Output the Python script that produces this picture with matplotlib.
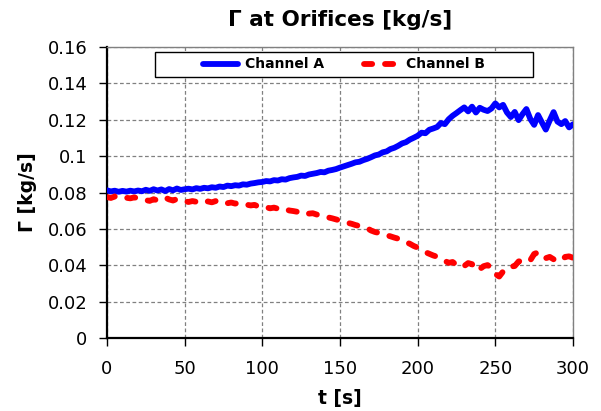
import numpy as np
import matplotlib
matplotlib.use("Agg")
import matplotlib.pyplot as plt
from matplotlib.patches import Rectangle

# time axis [s], sampled every 2.5 s
t = np.arange(0, 300.1, 2.5)

# Channel A [kg/s]
chan_a = [
    0.0812, 0.0806, 0.0810, 0.0804, 0.0809, 0.0805, 0.0810, 0.0806, 0.0811, 0.0807,
    0.0815, 0.0809, 0.0818, 0.0811, 0.0817, 0.0808, 0.0819, 0.0812, 0.0822, 0.0814,
    0.0818, 0.0821, 0.0817, 0.0824, 0.0820, 0.0826, 0.0823, 0.0829, 0.0826, 0.0833,
    0.0830, 0.0838, 0.0835, 0.0840, 0.0838, 0.0845, 0.0843, 0.0849, 0.0852, 0.0856,
    0.0858, 0.0863, 0.0861, 0.0868, 0.0866, 0.0873, 0.0871, 0.0879, 0.0883, 0.0886,
    0.0893, 0.0891, 0.0899, 0.0903, 0.0907, 0.0913, 0.0911, 0.0920, 0.0924, 0.0929,
    0.0937, 0.0944, 0.0951, 0.0958, 0.0966, 0.0969, 0.0978, 0.0985, 0.0994, 0.1004,
    0.1009, 0.1021, 0.1026, 0.1039, 0.1046, 0.1057, 0.1070, 0.1077, 0.1091, 0.1101,
    0.1112, 0.1129, 0.1126, 0.1145, 0.1152, 0.1160, 0.1182, 0.1176, 0.1203, 0.1222,
    0.1237, 0.1253, 0.1268, 0.1246, 0.1272, 0.1240, 0.1266, 0.1255, 0.1248, 0.1262,
    0.1290, 0.1268, 0.1282, 0.1240, 0.1215, 0.1243, 0.1198, 0.1231, 0.1259, 0.1205,
    0.1172, 0.1226, 0.1185, 0.1146, 0.1196, 0.1242, 0.1190, 0.1176, 0.1193, 0.1158,
    0.1175,
]

# Channel B [kg/s]
chan_b = [
    0.0775, 0.0770, 0.0778, 0.0772, 0.0766, 0.0771, 0.0768, 0.0773, 0.0769, 0.0765,
    0.0758, 0.0754, 0.0763, 0.0757, 0.0768, 0.0772, 0.0762, 0.0756, 0.0764, 0.0759,
    0.0752, 0.0748, 0.0753, 0.0749, 0.0755, 0.0747, 0.0751, 0.0746, 0.0753, 0.0744,
    0.0748, 0.0741, 0.0745, 0.0739, 0.0743, 0.0735, 0.0733, 0.0729, 0.0732, 0.0723,
    0.0726, 0.0719, 0.0713, 0.0717, 0.0711, 0.0716, 0.0707, 0.0701, 0.0698, 0.0694,
    0.0699, 0.0689, 0.0684, 0.0686, 0.0679, 0.0675, 0.0671, 0.0663, 0.0658, 0.0652,
    0.0646, 0.0641, 0.0633, 0.0628, 0.0621, 0.0616, 0.0611, 0.0604, 0.0591, 0.0583,
    0.0578, 0.0571, 0.0565, 0.0559, 0.0552, 0.0546, 0.0539, 0.0527, 0.0518, 0.0506,
    0.0497, 0.0486, 0.0472, 0.0463, 0.0454, 0.0447, 0.0436, 0.0424, 0.0413, 0.0418,
    0.0402, 0.0389, 0.0396, 0.0412, 0.0406, 0.0372, 0.0379, 0.0395, 0.0401, 0.0386,
    0.0352, 0.0338, 0.0366, 0.0371, 0.0392, 0.0396, 0.0421, 0.0425, 0.0418, 0.0427,
    0.0462, 0.0471, 0.0446, 0.0439, 0.0446, 0.0433, 0.0422, 0.0427, 0.0446, 0.0449,
    0.0441,
]

xticks = [0, 50, 100, 150, 200, 250, 300]
yticks = [0, 0.02, 0.04, 0.06, 0.08, 0.1, 0.12, 0.14, 0.16]
ytick_labels = ["0", "0.02", "0.04", "0.06", "0.08", "0.1", "0.12", "0.14", "0.16"]

plt.rcParams['font.family'] = ['DejaVu Sans']

fig = plt.figure(figsize=(6.01, 4.11), dpi=100)
ax = fig.add_axes([0.178, 0.1776, 0.7754, 0.708])

ax.plot(t, chan_a, color='#0000ff', lw=4.2, solid_capstyle='round',
        solid_joinstyle='round', label='Channel A', zorder=3)
ax.plot(t, chan_b, color='#ff0000', lw=4.2, linestyle=(0, (1.4, 2.2)),
        dash_capstyle='round', label='Channel B', zorder=3)

ax.set_xlim(0, 300)
ax.set_ylim(0, 0.16)
ax.set_xticks(xticks)
ax.set_yticks(yticks)
ax.set_yticklabels(ytick_labels)
ax.tick_params(axis='both', labelsize=13, length=6, width=1, direction='out')
ax.tick_params(axis='x', pad=10)
ax.tick_params(axis='y', pad=8)

ax.grid(True, color='#808080', linestyle=(0, (3, 2)), linewidth=0.9)
ax.set_axisbelow(True)

for side in ['left', 'bottom']:
    ax.spines[side].set_color('black')
    ax.spines[side].set_linewidth(1.6)
for side in ['top', 'right']:
    ax.spines[side].set_color('#808080')
    ax.spines[side].set_linewidth(1.0)

ax.set_title('Γ at Orifices [kg/s]', fontsize=15.5, fontweight='bold', pad=15)
ax.set_xlabel('t [s]', fontsize=13.5, fontweight='bold', labelpad=8)
ax.set_ylabel('Γ [kg/s]', fontsize=13.5, fontweight='bold', labelpad=8)

# legend box, drawn separately so the entries stay centred inside it
box = Rectangle((0.103, 0.897), 0.811, 0.086, transform=ax.transAxes,
                facecolor='white', edgecolor='black', linewidth=1.0, zorder=4)
ax.add_patch(box)
leg = ax.legend(loc='center', bbox_to_anchor=(0.5086, 0.94), ncol=2,
                frameon=False, handlelength=2.5, handletextpad=0.5,
                columnspacing=2.9, borderpad=0.0,
                prop={'weight': 'bold', 'size': 10})
leg.set_zorder(5)

fig.savefig('out.png', dpi=100)
